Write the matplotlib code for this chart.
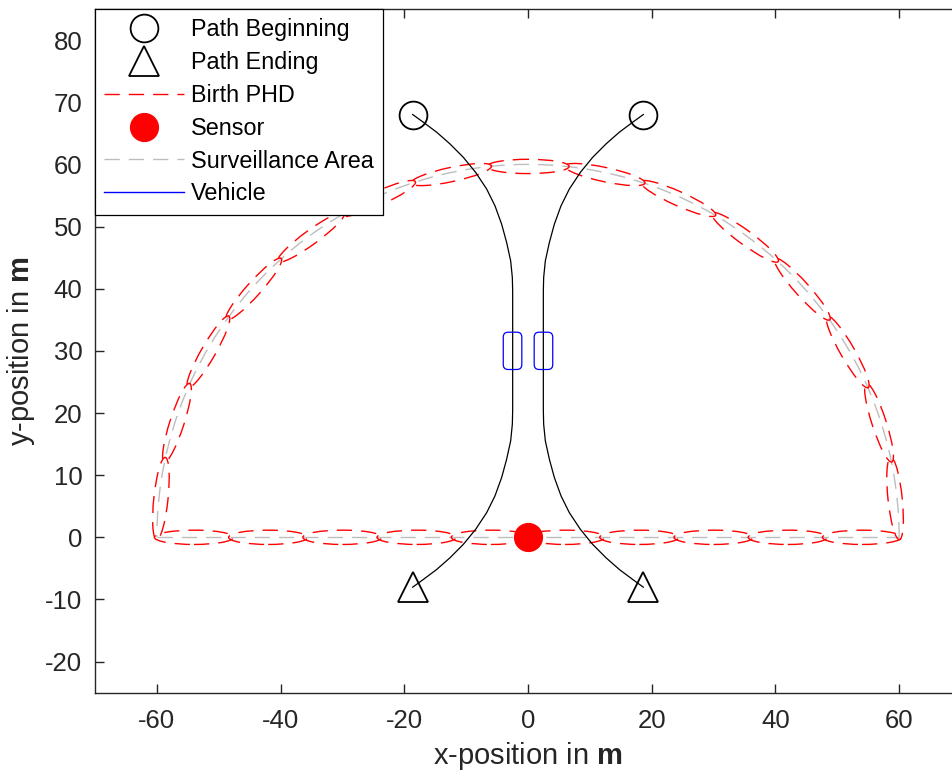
import numpy as np
import matplotlib
matplotlib.use("Agg")
import matplotlib.pyplot as plt
from matplotlib.patches import Ellipse, Arc, FancyBboxPatch
from matplotlib.lines import Line2D

plt.rcParams['font.family'] = ['Liberation Sans', 'DejaVu Sans']
plt.rcParams['mathtext.fontset'] = 'custom'
plt.rcParams['mathtext.rm'] = 'Liberation Sans'
plt.rcParams['mathtext.bf'] = 'Liberation Sans:bold'
plt.rcParams['axes.unicode_minus'] = False

# ---------------- data ----------------
# left path, top to bottom (the right path is its mirror image in x)
path_x = [-18.64, -16.92, -14.76, -12.61, -10.45, -8.46, -6.68, -5.34, -4.26, -3.45, -2.80, -2.53, -2.48,
          -2.48, -2.53, -2.80, -3.45, -4.26, -5.34, -6.68, -8.46, -10.45, -12.61, -14.76, -16.92, -18.64]
path_y = [68.02, 66.78, 65.17, 63.29, 61.13, 58.71, 56.03, 53.34, 50.38, 47.42, 44.47, 41.78, 39.63,
          20.37, 18.22, 15.53, 12.58, 9.62, 6.66, 3.97, 1.29, -1.13, -3.29, -5.17, -6.78, -8.02]

sensor_x, sensor_y = 0.0, 0.0
area_radius = 60.0

# birth PHD components: along the bottom edge and along the arc
birth_bottom_x = [-54, -42, -30, -18, -6, 6, 18, 30, 42, 54]
birth_bottom_len = 12.8
birth_arc_deg = [6, 18, 30, 42, 54, 66, 78, 90, 102, 114, 126, 138, 150, 162, 174]
birth_arc_len = 13.3
birth_arc_r = 59.67
birth_width = 2.3

vehicle_x = [-2.5, 2.5]
vehicle_y = [30.0, 30.0]
vehicle_w, vehicle_h = 3.0, 6.0

# ---------------- figure ----------------
W, H = 952, 773
fig = plt.figure(figsize=(W / 100, H / 100), dpi=100)
ax = fig.add_axes([95 / W, (H - 692.7) / H, 866 / W, 683.7 / H])

red_dash = (0, (11, 6.5))
grey_dash = (0, (11, 6.5))

# surveillance area
grey = (0.74, 0.74, 0.74)
ax.add_patch(Arc((0, 0), 2 * area_radius, 2 * area_radius, theta1=0, theta2=180,
                 color=grey, lw=1.0, linestyle=grey_dash, zorder=2))
ax.plot([-area_radius, area_radius], [0, 0], color=grey, lw=1.0, linestyle=grey_dash, zorder=2)

# birth PHD ellipses
for bx in birth_bottom_x:
    ax.add_patch(Ellipse((bx, 0), birth_bottom_len, birth_width, angle=0,
                         fill=False, ec='red', lw=1.0, linestyle=red_dash, zorder=3))
for deg in birth_arc_deg:
    th = np.deg2rad(deg)
    cx, cy = birth_arc_r * np.cos(th), birth_arc_r * np.sin(th)
    ax.add_patch(Ellipse((cx, cy), birth_arc_len, birth_width, angle=deg + 90,
                         fill=False, ec='red', lw=1.0, linestyle=red_dash, zorder=3))

# paths
px = np.array(path_x)
py = np.array(path_y)
for sx in (1, -1):
    ax.plot(sx * px, py, color='black', lw=0.9, zorder=4)
    ax.plot(sx * px[0], py[0], 'o', ms=20, mfc='none', mec='black', mew=1.3, zorder=5)
    ax.plot(sx * px[-1], py[-1], '^', ms=21, mfc='none', mec='black', mew=1.3, zorder=5)

# vehicles
for vx, vy in zip(vehicle_x, vehicle_y):
    ax.add_patch(FancyBboxPatch((vx - vehicle_w / 2, vy - vehicle_h / 2), vehicle_w, vehicle_h,
                                boxstyle="round,pad=0,rounding_size=0.8",
                                fill=False, ec='blue', lw=0.9, zorder=4))

# sensor
ax.plot(sensor_x, sensor_y, 'o', ms=20, color='red', zorder=6)

ax.set_xlim(-70, 70)
ax.set_ylim(-25, 85)
ax.set_xticks(np.arange(-60, 61, 20))
ax.set_yticks(np.arange(-20, 81, 10))
ax.tick_params(direction='in', length=6.5, width=1.0, top=True, right=True,
               labelsize=18.5, colors='#262626')
ax.tick_params(axis='x', pad=12)
ax.tick_params(axis='y', pad=9)
for sp in ax.spines.values():
    sp.set_color('#262626')
    sp.set_linewidth(1.0)
ax.set_xlabel(r'x-position in $\mathbf{m}$', fontsize=21, color='#262626', labelpad=5)
ax.set_ylabel(r'y-position in $\mathbf{m}$', fontsize=21, color='#262626', labelpad=6)

handles = [
    Line2D([], [], ls='none', marker='o', ms=20, mfc='none', mec='black', mew=1.3),
    Line2D([], [], ls='none', marker='^', ms=21, mfc='none', mec='black', mew=1.3),
    Line2D([], [], color='red', lw=1.0, linestyle=red_dash),
    Line2D([], [], ls='none', marker='o', ms=20, color='red'),
    Line2D([], [], color=grey, lw=1.0, linestyle=grey_dash),
    Line2D([], [], color='blue', lw=1.0),
]
labels = ['Path Beginning', 'Path Ending', 'Birth PHD', 'Sensor', 'Surveillance Area', 'Vehicle']
leg = ax.legend(handles, labels, loc='upper left', bbox_to_anchor=(0, 1), borderaxespad=0,
                fontsize=16.8, fancybox=False, framealpha=1, edgecolor='black',
                handlelength=3.4, handletextpad=0.3, labelspacing=0.42, borderpad=0.4,
                numpoints=1)
leg.get_frame().set_linewidth(0.9)
leg.set_zorder(10)

fig.savefig('out.png', dpi=100)
